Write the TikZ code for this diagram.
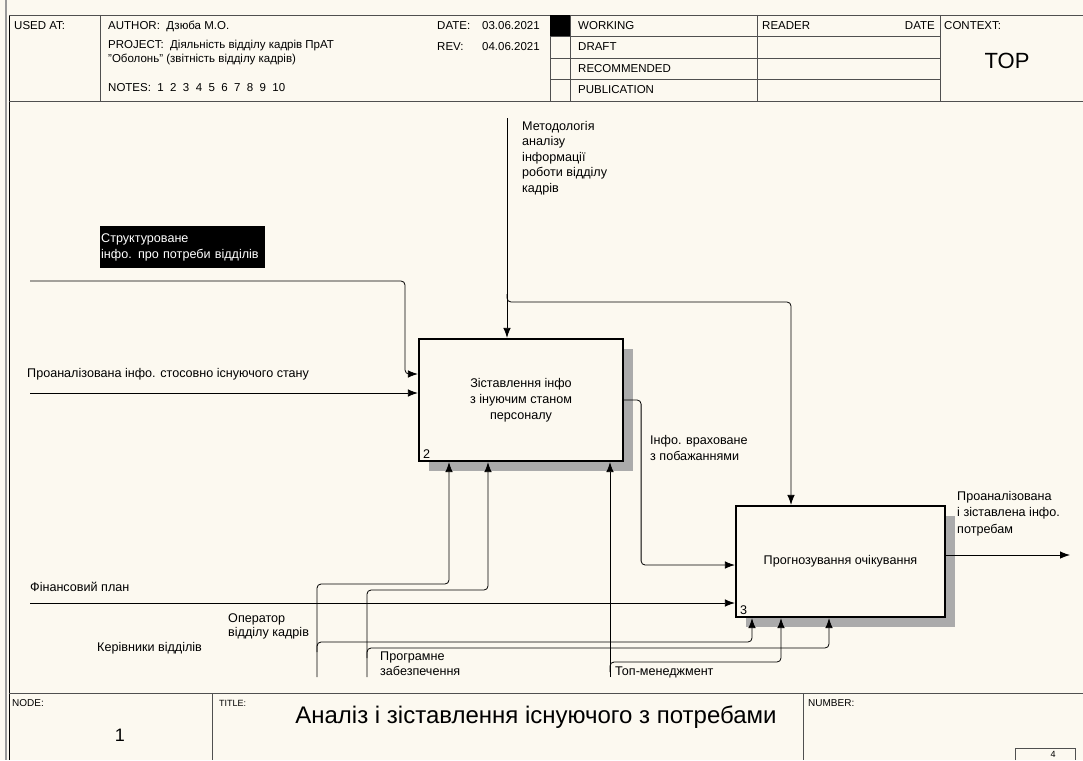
\documentclass[tikz,border=0pt]{standalone}
\usepackage{fontspec}
\setmainfont{Liberation Sans}
\usetikzlibrary{arrows.meta,patterns,shadows,positioning}
\definecolor{paper}{RGB}{252,249,240}
\definecolor{rulegray}{RGB}{80,80,80}

\begin{document}
\begin{tikzpicture}[x=1pt,y=-1pt,
  every node/.style={font=\fontsize{12.6}{15.8}\selectfont,inner sep=0pt},
  lbl/.style={align=left,anchor=north west},
  hdr/.style={font=\fontsize{11.5}{13.5}\selectfont,anchor=west},
  func/.style={draw,line width=2.2pt,fill=paper,align=center,font=\fontsize{12.6}{16}\selectfont,
    drop shadow={shadow xshift=10pt,shadow yshift=-10pt,opacity=1,fill=black!33}},
  flow/.style={line width=0.8pt,rounded corners=4pt,-{Latex[length=10pt,width=7.5pt]}},
  frame/.style={rulegray,line width=0.9pt}]
  \fill[paper] (0,0) rectangle (1083,760);
  \useasboundingbox (0,0) rectangle (1083,760);
  \draw[black!40,line width=1.5pt] (6,0) -- (6,760);
  \draw[line width=1pt] (9,15) -- (9,760);
  \draw[frame] (9,15) -- (1083,15) (9,101) -- (1083,101);
  \draw[frame] (100,15) -- (100,101) (550,15) -- (550,101) (570,15) -- (570,101)
    (757,15) -- (757,101) (940,15) -- (940,101);
  \draw[frame] (550,36.5) -- (940,36.5) (550,58) -- (940,58) (550,79.5) -- (940,79.5);
  \fill (550,15) rectangle (570,36.5);
  \draw[frame] (9,693) -- (1083,693) (212,693) -- (212,760) (803,693) -- (803,760);
  \draw[frame,line width=0.6pt] (1015,760) |- (1075,748) -- (1075,760);

  \node[hdr] (usedat) at (14,26) {USED AT:};
  \node[hdr] (author) at (108,26) {AUTHOR:\ \ Дзюба М.О.};
  \node[hdr,lbl] (project) at (108,40) {PROJECT:\ \ Діяльність відділу кадрів ПрАТ\\\char34Оболонь\char34\ (звітність відділу кадрів)};
  \node[hdr] (notes) at (108,88) {NOTES:\ \ 1~~2~~3~~4~~5~~6~~7~~8~~9~~10};
  \node[hdr] (datelbl) at (437,26) {DATE:};
  \node[hdr] (dateval) at (482,26) {03.06.2021};
  \node[hdr] (revlbl) at (437,47) {REV:};
  \node[hdr] (revval) at (482,47) {04.06.2021};
  \node[hdr] (working) at (578,26) {WORKING};
  \node[hdr] (draft) at (578,47) {DRAFT};
  \node[hdr] (recom) at (578,69) {RECOMMENDED};
  \node[hdr] (publ) at (578,90) {PUBLICATION};
  \node[hdr] (reader) at (762,26) {READER};
  \node[hdr,anchor=east] (rdate) at (935,26) {DATE};
  \node[hdr] (context) at (944,26) {CONTEXT:};
  \node[font=\fontsize{22}{24}\selectfont] (top) at (1007,61) {TOP};

  \node[font=\fontsize{10}{12}\selectfont,anchor=west] (nodelbl) at (12,703) {NODE:};
  \node[font=\fontsize{18}{20}\selectfont] (nodenum) at (120,735) {1};
  \node[font=\fontsize{9}{11}\selectfont,anchor=west] (titlelbl) at (219,703) {TITLE:};
  \node[font=\fontsize{24}{26}\selectfont] (title) at (536,717) {Аналіз і зіставлення існуючого з потребами};
  \node[font=\fontsize{10}{12}\selectfont,anchor=west] (numlbl) at (808,703) {NUMBER:};
  \node[font=\fontsize{9}{11}\selectfont] (pagenum) at (1053,754) {4};

  \node[func,minimum width=204pt,minimum height=122pt] (zist) at (521,400) {Зіставлення інфо\\з інуючим станом\\персоналу};
  \node[anchor=south west] (zistnum) at ([xshift=5pt,yshift=3pt]zist.south west) {2};
  \node[func,minimum width=209pt,minimum height=111pt] (prog) at (840.5,561.5) {Прогнозування очікування};
  \node[anchor=south west] (prognum) at ([xshift=5pt,yshift=3pt]prog.south west) {3};

  \node[lbl,font=\fontsize{12.6}{15.5}\selectfont] (metlbl) at (522,121) {Методологія\\аналізу\\інформації\\роботи відділу\\кадрів};
  \node[lbl,fill=black,text=white,text width=163pt,minimum height=42pt,inner xsep=1pt] (strlbl) at (100,226) {Структуроване\\інфо. про потреби відділів};
  \node[anchor=west] (stlbl) at (27,374) {Проаналізована інфо. стосовно існуючого стану};
  \node[lbl] (wishlbl) at (650,435) {Інфо. враховане\\з побажаннями};
  \node[anchor=west] (finlbl) at (30,587) {Фінансовий план};
  \node[lbl,font=\fontsize{12.6}{16.5}\selectfont] (outlbl) at (957,491) {Проаналізована\\і зіставлена інфо.\\потребам};
  \node[lbl,font=\fontsize{12.6}{14.5}\selectfont] (oplbl) at (228,613) {Оператор\\відділу кадрів};
  \node[anchor=west] (kerlbl) at (97,648) {Керівники відділів};
  \node[lbl,font=\fontsize{12.6}{14.5}\selectfont] (swlbl) at (380,652) {Програмне\\забезпечення};
  \node[anchor=west] (toplbl) at (615,672) {Топ-менеджмент};

  \coordinate (metTop) at (507,118);
  \coordinate (metSplit) at (507,294);
  \coordinate (metTurn) at (791,302);
  \coordinate (strIn) at (30,281);
  \coordinate (strTurn) at (405,281);
  \coordinate (stIn) at (30,393);
  \coordinate (finIn) at (30,603);
  \coordinate (outEnd) at (1070,555);
  \coordinate (opBot) at (317,677);
  \coordinate (opTurn) at (449,584);
  \coordinate (opBr) at (317,652);
  \coordinate (opBrTurn) at (752,642);
  \coordinate (swBot) at (367,677);
  \coordinate (swTurn) at (488,590);
  \coordinate (swBr) at (367,658);
  \coordinate (swBrTurn) at (829,648);
  \coordinate (topBot) at (610,677);
  \coordinate (topBr) at (610,672);
  \coordinate (topBrTurn) at (781,662);

  \draw[flow] (metTop) -- (zist.north -| metTop);
  \draw[flow] (metSplit) |- (metTurn) -- (prog.north -| metTurn);
  \draw[flow] (strIn) -- (strTurn) |- ([yshift=26pt]zist.west);
  \draw[flow] (stIn) -- (stIn -| zist.west);
  \draw[flow] (zist.east) -- ++(17,0) |- ([yshift=-3.5pt]prog.west);
  \draw[flow] (finIn) -- (finIn -| prog.west);
  \draw[flow] (outEnd -| prog.east) -- (outEnd);
  \draw[flow] (opBot) |- (opTurn) -- (zist.south -| opTurn);
  \draw[flow] (opBr) |- (opBrTurn) -- (prog.south -| opBrTurn);
  \draw[flow] (swBot) |- (swTurn) -- (zist.south -| swTurn);
  \draw[flow] (swBr) |- (swBrTurn) -- (prog.south -| swBrTurn);
  \draw[flow] (topBot) -- (zist.south -| topBot);
  \draw[flow] (topBr) |- (topBrTurn) -- (prog.south -| topBrTurn);
\end{tikzpicture}
\end{document}
